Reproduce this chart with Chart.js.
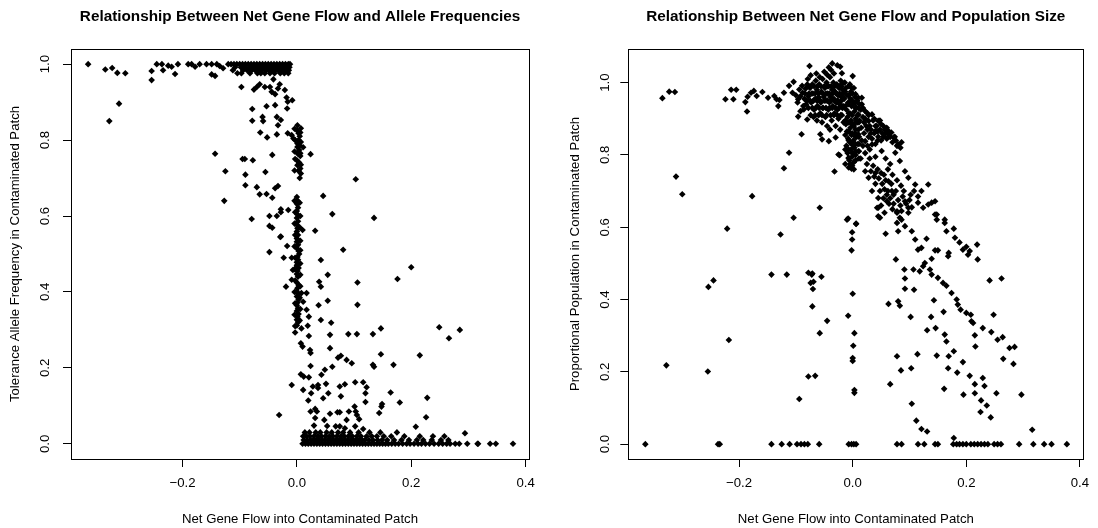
<!DOCTYPE html>
<html>
<head>
<meta charset="utf-8">
<script src="https://cdn.jsdelivr.net/npm/chart.js@4.4.1/dist/chart.umd.min.js"></script>
<style>
  html, body { margin: 0; padding: 0; background: #fff; }
  #wrap { display: flex; width: 1098px; height: 528px; }
  canvas { display: block; }
</style>
</head>
<body>
<div id="wrap">
  <canvas id="alleleChart" width="549" height="528"></canvas>
  <canvas id="popChart" width="549" height="528"></canvas>
</div>
<script>
// tick values (same x axis on both panels)
const xTicks = [-0.2, 0.0, 0.2, 0.4];
const alleleTicks = [0.0, 0.2, 0.4, 0.6, 0.8, 1.0];
const popTicks = [0.0, 0.2, 0.4, 0.6, 0.8, 1.0];

// net gene flow vs tolerance allele frequency
const allelePoints = [
  [-0.365,1.000],[-0.335,0.986],[-0.323,0.990],[-0.314,0.977],[-0.300,0.976],[-0.311,0.896],[-0.328,0.850],
  [-0.254,0.958],[-0.254,0.982],[-0.245,1.000],[-0.236,1.000],[-0.234,0.984],[-0.225,0.996],[-0.219,0.993],[-0.213,0.974],[-0.208,1.000],
  [-0.190,1.000],[-0.184,1.000],[-0.178,0.993],[-0.170,1.000],[-0.158,1.000],[-0.149,1.000],[-0.140,1.000],[-0.135,0.995],[-0.129,0.989],[-0.120,1.000],[-0.149,0.973],[-0.143,0.969],
  [-0.115,1.000],[-0.110,1.000],[-0.105,1.000],[-0.100,1.000],[-0.095,1.000],[-0.090,1.000],[-0.085,1.000],[-0.080,1.000],[-0.075,1.000],[-0.070,1.000],[-0.065,1.000],
  [-0.060,1.000],[-0.055,1.000],[-0.050,1.000],[-0.045,1.000],[-0.040,1.000],[-0.035,1.000],[-0.030,1.000],[-0.025,1.000],[-0.020,1.000],[-0.015,1.000],[-0.012,1.000],
  [-0.108,0.992],[-0.098,0.992],[-0.091,0.992],[-0.083,0.992],[-0.077,0.992],[-0.071,0.992],[-0.064,0.992],[-0.058,0.992],[-0.052,0.992],[-0.046,0.992],
  [-0.041,0.992],[-0.036,0.992],[-0.031,0.992],[-0.026,0.992],[-0.021,0.992],[-0.016,0.992],[-0.013,0.992],
  [-0.112,0.984],[-0.094,0.984],[-0.087,0.984],[-0.079,0.984],[-0.073,0.984],[-0.067,0.984],[-0.061,0.984],[-0.054,0.984],[-0.049,0.984],[-0.043,0.984],
  [-0.038,0.984],[-0.033,0.984],[-0.028,0.984],[-0.023,0.984],[-0.018,0.984],[-0.014,0.984],
  [-0.104,0.976],[-0.097,0.976],[-0.082,0.976],[-0.069,0.976],[-0.063,0.976],[-0.056,0.976],[-0.047,0.976],[-0.039,0.976],[-0.029,0.976],[-0.022,0.976],[-0.015,0.976],
  [-0.097,0.940],[-0.075,0.933],[-0.070,0.940],[-0.065,0.947],[-0.056,0.940],[-0.047,0.940],[-0.044,0.927],[-0.041,0.960],[-0.038,0.921],[-0.033,0.936],
  [-0.030,0.947],[-0.021,0.932],[-0.018,0.912],[-0.016,0.901],[-0.008,0.905],[-0.017,0.883],
  [-0.078,0.882],[-0.078,0.851],[-0.060,0.861],[-0.059,0.850],[-0.053,0.889],[-0.038,0.892],[-0.035,0.861],[-0.033,0.839],[-0.028,0.853],
  [-0.064,0.820],[-0.052,0.807],[-0.035,0.815],[-0.016,0.818],[-0.009,0.813],[-0.006,0.804],
  [0.001,0.839],[0.007,0.831],[0.003,0.818],[0.000,0.826],[0.005,0.810],[0.003,0.800],[0.001,0.791],[0.005,0.786],[0.001,0.782],[0.011,0.781],
  [0.004,0.774],[0.001,0.765],[0.006,0.758],[0.000,0.747],[0.004,0.741],[0.001,0.734],[0.006,0.725],[0.003,0.719],[0.007,0.712],
  [0.024,0.763],[-0.143,0.764],[-0.125,0.718],[-0.127,0.640],[-0.095,0.750],[-0.091,0.750],[-0.077,0.747],[-0.090,0.709],[-0.055,0.716],[-0.043,0.761],
  [-0.090,0.681],[-0.070,0.676],[-0.065,0.657],[-0.053,0.658],[-0.043,0.648],[-0.038,0.673],[-0.033,0.679],
  [0.103,0.697],[0.046,0.653],[0.062,0.605],[0.135,0.595],
  [-0.079,0.592],[-0.048,0.600],[-0.035,0.600],[-0.048,0.574],[-0.043,0.569],[-0.028,0.618],[-0.028,0.610],[-0.015,0.616],[-0.029,0.545],
  [0.000,0.650],[0.001,0.641],[0.000,0.632],[0.002,0.622],[0.000,0.613],[0.001,0.604],[0.000,0.595],[0.002,0.586],[0.000,0.577],[0.001,0.568],
  [0.000,0.559],[0.002,0.550],[0.000,0.541],[0.010,0.563],[0.032,0.561],
  [-0.028,0.546],[-0.048,0.505],[-0.017,0.521],[-0.023,0.490],[-0.009,0.490],[0.000,0.478],[0.004,0.500],
  [0.042,0.484],[0.081,0.511],[-0.007,0.458],[-0.009,0.432],[-0.019,0.414],
  [0.000,0.532],[0.002,0.524],[0.000,0.515],[0.003,0.508],[0.001,0.492],[0.002,0.485],[0.000,0.470],[0.003,0.463],[0.001,0.455],[0.000,0.447],
  [0.002,0.440],[0.000,0.425],[0.003,0.418],[0.001,0.410],[0.000,0.402],[0.002,0.395],[0.000,0.388],[0.003,0.380],[0.001,0.372],[0.000,0.365],
  [0.002,0.357],[0.000,0.350],[0.003,0.342],[0.001,0.335],[0.000,0.327],[0.002,0.320],[0.000,0.312],[-0.003,0.293],
  [-0.004,0.830],[0.006,0.820],[-0.003,0.800],[0.007,0.795],[-0.004,0.770],[0.006,0.765],[-0.003,0.750],[0.007,0.735],[-0.004,0.720],[0.005,0.700],
  [-0.004,0.640],[0.005,0.635],[-0.003,0.610],[0.006,0.600],[-0.004,0.580],[0.005,0.570],[-0.003,0.550],[0.006,0.535],[-0.004,0.520],[0.006,0.510],
  [-0.003,0.490],[0.006,0.475],[-0.004,0.460],[0.006,0.445],[-0.003,0.430],[0.006,0.415],[-0.004,0.400],[0.005,0.385],[-0.003,0.370],[0.006,0.355],
  [-0.004,0.340],[0.005,0.325],[-0.003,0.310],
  [0.008,0.397],[0.017,0.397],[0.011,0.374],[0.017,0.353],[0.021,0.335],[0.008,0.304],[0.019,0.311],[0.021,0.284],
  [0.039,0.427],[0.042,0.414],[0.054,0.445],[0.106,0.425],[0.176,0.434],[0.200,0.465],
  [0.038,0.365],[0.054,0.377],[0.106,0.366],[0.042,0.326],[0.060,0.319],[0.058,0.287],[0.058,0.252],
  [0.090,0.289],[0.105,0.289],[0.133,0.289],[0.147,0.304],[0.249,0.307],[0.266,0.278],[0.285,0.300],
  [0.007,0.265],[0.010,0.256],[0.023,0.247],[0.024,0.239],[0.072,0.227],[0.077,0.232],[0.087,0.221],[0.096,0.212],[0.147,0.236],[0.133,0.208],
  [0.135,0.203],[0.169,0.208],[0.215,0.233],
  [0.024,0.205],[0.007,0.183],[0.012,0.177],[0.021,0.175],[0.043,0.182],[0.049,0.195],[0.062,0.203],
  [-0.009,0.155],[0.011,0.142],[0.025,0.133],[0.028,0.151],[0.037,0.155],[0.037,0.147],[0.051,0.158],[0.055,0.133],[0.075,0.151],[0.084,0.157],
  [0.102,0.162],[0.116,0.162],[0.122,0.149],[0.120,0.133],[0.164,0.135],
  [0.077,0.125],[0.046,0.120],[0.020,0.114],[0.120,0.110],[0.149,0.105],[0.180,0.109],[0.228,0.121],
  [-0.031,0.076],[0.024,0.085],[0.032,0.092],[0.035,0.085],[0.058,0.079],[0.071,0.083],[0.075,0.083],[0.091,0.085],[0.101,0.098],[0.103,0.085],
  [0.105,0.076],[0.144,0.081],[0.148,0.098],
  [0.032,0.068],[0.048,0.063],[0.087,0.063],[0.109,0.065],[0.226,0.070],
  [0.030,0.048],[0.053,0.047],[0.068,0.046],[0.075,0.046],[0.084,0.041],[0.102,0.046],[0.116,0.039],[0.208,0.045],[0.294,0.028],
  [0.010,0.000],[0.015,0.000],[0.020,0.000],[0.025,0.000],[0.030,0.000],[0.035,0.000],[0.040,0.000],[0.045,0.000],[0.050,0.000],[0.055,0.000],
  [0.060,0.000],[0.065,0.000],[0.070,0.000],[0.075,0.000],[0.080,0.000],[0.085,0.000],[0.090,0.000],[0.095,0.000],[0.100,0.000],[0.105,0.000],
  [0.110,0.000],[0.115,0.000],[0.120,0.000],[0.125,0.000],[0.130,0.000],[0.135,0.000],[0.140,0.000],[0.145,0.000],[0.150,0.000],[0.155,0.000],
  [0.160,0.000],[0.166,0.000],[0.172,0.000],[0.178,0.000],[0.185,0.000],[0.192,0.000],[0.198,0.000],[0.205,0.000],[0.212,0.000],[0.218,0.000],
  [0.225,0.000],[0.232,0.000],[0.240,0.000],[0.248,0.000],[0.255,0.000],[0.262,0.000],[0.268,0.000],
  [0.012,0.010],[0.018,0.010],[0.024,0.010],[0.029,0.010],[0.034,0.010],[0.039,0.010],[0.044,0.010],[0.049,0.010],[0.054,0.010],[0.059,0.010],
  [0.064,0.010],[0.069,0.010],[0.074,0.010],[0.079,0.010],[0.084,0.010],[0.089,0.010],[0.094,0.010],[0.099,0.010],[0.104,0.010],[0.109,0.010],
  [0.114,0.010],[0.119,0.010],[0.126,0.010],[0.133,0.010],[0.141,0.010],[0.149,0.010],[0.158,0.010],[0.170,0.010],[0.183,0.010],[0.196,0.010],
  [0.210,0.010],[0.221,0.010],[0.236,0.010],[0.252,0.010],[0.265,0.010],
  [0.011,0.020],[0.017,0.020],[0.023,0.020],[0.030,0.020],[0.037,0.020],[0.043,0.020],[0.050,0.020],[0.057,0.020],[0.063,0.020],[0.070,0.020],
  [0.077,0.020],[0.083,0.020],[0.090,0.020],[0.097,0.020],[0.105,0.020],[0.112,0.020],[0.122,0.020],[0.131,0.020],[0.140,0.020],[0.152,0.020],
  [0.165,0.020],[0.188,0.020],[0.215,0.020],[0.238,0.020],[0.258,0.020],
  [0.014,0.030],[0.022,0.030],[0.033,0.030],[0.041,0.030],[0.052,0.030],[0.061,0.030],[0.072,0.030],[0.081,0.030],[0.093,0.030],[0.108,0.030],
  [0.127,0.030],[0.146,0.030],[0.175,0.030],
  [0.277,0.000],[0.284,0.000],[0.298,0.000],[0.316,0.000],[0.317,0.000],[0.338,0.000],[0.348,0.000],[0.378,0.000]
];

// net gene flow vs proportional population
const popPoints = [
  [-0.335,0.957],[-0.323,0.975],[-0.313,0.974],[-0.311,0.740],[-0.300,0.691],
  [-0.224,0.954],[-0.214,0.980],[-0.210,0.954],[-0.205,0.980],[-0.189,0.946],[-0.186,0.920],[-0.185,0.961],[-0.179,0.972],[-0.174,0.977],[-0.169,0.963],
  [-0.159,0.974],[-0.149,0.958],[-0.138,0.963],[-0.134,0.954],[-0.129,0.952],[-0.131,0.935],[-0.121,0.972],[-0.112,0.991],[-0.104,1.002],[-0.106,0.972],
  [-0.096,0.954],[-0.094,0.981],[-0.089,0.991],[-0.083,0.983],[-0.080,0.995],
  [-0.096,0.906],[-0.092,0.921],[-0.086,0.926],[-0.080,0.898],[-0.076,1.046],[-0.090,0.857],[-0.112,0.806],[-0.121,0.763],[-0.177,0.686],[-0.221,0.596],
  [-0.127,0.580],[-0.104,0.626],[-0.058,0.654],[-0.010,0.621],[0.006,0.610],[-0.001,0.586],
  [-0.054,0.843],[-0.042,0.838],[-0.057,0.857],[-0.030,0.848],[-0.023,0.799],[-0.032,0.754],[-0.036,1.053],[-0.027,1.048],[-0.022,1.044],[-0.019,1.026],
  [0.000,1.018],[-0.042,1.042],
  [-0.078,0.962],[-0.075,0.985],[-0.073,0.945],[-0.071,0.995],[-0.070,0.970],[-0.068,0.925],[-0.066,0.955],[-0.065,1.005],[-0.063,0.980],[-0.062,0.935],
  [-0.060,0.960],[-0.059,0.995],[-0.057,0.915],[-0.056,0.945],[-0.055,0.975],[-0.053,1.010],[-0.052,0.930],[-0.051,0.960],[-0.049,0.985],[-0.048,0.905],
  [-0.047,0.950],[-0.046,1.000],[-0.044,0.970],[-0.043,0.925],[-0.042,0.990],[-0.041,0.945],[-0.040,1.015],[-0.039,0.960],[-0.037,0.895],[-0.036,0.980],
  [-0.035,0.935],[-0.034,1.000],[-0.033,0.955],[-0.032,0.915],[-0.031,0.975],[-0.030,0.880],[-0.029,0.945],[-0.028,0.995],[-0.027,0.925],[-0.026,0.965],
  [-0.025,0.900],[-0.024,0.985],[-0.023,0.940],[-0.022,0.870],[-0.021,1.005],[-0.020,0.960],[-0.019,0.910],[-0.018,0.980],[-0.017,0.935],[-0.016,0.890],
  [-0.015,0.955],[-0.014,1.000],
  [-0.085,0.955],[-0.088,0.972],[-0.082,0.940],[-0.079,1.010],[-0.074,1.020],[-0.064,1.025],[-0.058,1.015],[-0.050,1.030],[-0.045,1.022],[-0.038,1.035],
  [-0.033,1.025],[-0.069,0.905],[-0.063,0.895],[-0.054,0.890],[-0.045,0.880],[-0.040,0.870],[-0.100,0.965],[-0.097,0.945],[-0.092,0.962],[-0.087,0.935],
  [-0.078,0.930],[-0.071,0.930],[-0.065,0.930],[-0.059,0.930],[-0.053,0.930],[-0.047,0.930],[-0.041,0.930],[-0.036,0.930],[-0.030,0.930],[-0.024,0.930],[-0.018,0.930],
  [-0.081,0.950],[-0.075,0.950],[-0.069,0.950],[-0.063,0.950],[-0.057,0.950],[-0.050,0.950],[-0.044,0.950],[-0.038,0.950],[-0.032,0.950],[-0.026,0.950],[-0.020,0.950],
  [-0.084,0.970],[-0.077,0.970],[-0.072,0.970],[-0.066,0.970],[-0.060,0.970],[-0.053,0.970],[-0.047,0.970],[-0.041,0.970],[-0.035,0.970],[-0.029,0.970],[-0.023,0.970],[-0.017,0.970],
  [-0.077,0.990],[-0.068,0.990],[-0.062,0.990],[-0.056,0.990],[-0.050,0.990],[-0.044,0.990],[-0.038,0.990],[-0.032,0.990],[-0.026,0.990],[-0.020,0.990],
  [-0.074,0.910],[-0.066,0.910],[-0.060,0.910],[-0.054,0.910],[-0.046,0.910],[-0.039,0.910],[-0.033,0.910],[-0.027,0.910],[-0.021,0.910],
  [-0.012,0.985],[-0.010,0.965],[-0.008,0.945],[-0.011,0.925],[-0.009,0.905],[-0.012,0.885],[-0.010,0.865],[-0.008,0.845],[-0.011,0.825],[-0.009,0.805],
  [-0.006,0.785],[-0.005,0.995],[-0.003,0.975],[-0.004,0.955],[-0.002,0.935],[-0.005,0.915],[-0.003,0.895],[-0.004,0.875],[-0.002,0.855],[-0.005,0.835],
  [-0.003,0.815],[-0.001,0.795],[-0.004,0.775],[-0.002,0.762],
  [0.002,0.985],[0.004,0.960],[0.001,0.940],[0.003,0.920],[0.005,0.900],[0.002,0.880],[0.004,0.860],[0.001,0.840],[0.003,0.820],[0.005,0.800],[0.002,0.780],
  [0.008,0.950],[0.007,0.930],[0.009,0.910],[0.008,0.890],[0.010,0.870],[0.007,0.850],[0.009,0.830],[0.011,0.810],
  [-0.013,0.775],[-0.013,0.815],[-0.013,0.855],[-0.013,0.895],[-0.013,0.935],[-0.013,0.975],
  [-0.007,0.765],[-0.007,0.790],[-0.007,0.815],[-0.007,0.840],[-0.007,0.865],[-0.007,0.890],[-0.007,0.915],[-0.007,0.940],[-0.007,0.965],[-0.007,0.990],
  [-0.001,0.770],[-0.001,0.805],[-0.001,0.830],[-0.001,0.860],[-0.001,0.885],[-0.001,0.910],[-0.001,0.950],[-0.001,0.970],
  [0.005,0.785],[0.005,0.810],[0.005,0.830],[0.005,0.850],[0.005,0.870],[0.005,0.890],[0.005,0.930],[0.005,0.945],
  [0.011,0.790],[0.011,0.830],[0.011,0.850],[0.011,0.890],[0.011,0.930],
  [-0.020,0.995],[-0.002,0.986],[-0.016,0.958],[0.010,0.958],[0.016,0.958],
  [0.010,0.912],[0.022,0.921],[0.034,0.912],[0.045,0.894],[0.054,0.880],[0.063,0.866],[0.072,0.848],[0.080,0.829],[0.010,0.857],[0.022,0.838],
  [0.034,0.829],[-0.001,0.829],[-0.007,0.792],[0.002,0.760],[0.016,0.940],[0.005,0.968],[0.028,0.894],[0.040,0.866],
  [0.014,0.925],[0.018,0.905],[0.026,0.915],[0.030,0.880],[0.038,0.900],[0.042,0.880],[0.048,0.870],[0.050,0.885],[0.058,0.860],[0.060,0.875],
  [0.066,0.850],[0.068,0.862],[0.076,0.840],[0.015,0.875],[0.020,0.860],[0.028,0.850],[0.034,0.845],[0.045,0.850],[0.012,0.895],[0.024,0.880],
  [0.016,0.840],[0.026,0.825],[0.050,0.840],
  [0.012,0.940],[0.018,0.930],[0.022,0.900],[0.028,0.910],[0.032,0.870],[0.036,0.895],[0.040,0.880],[0.044,0.865],[0.048,0.895],[0.052,0.860],
  [0.056,0.870],[0.060,0.845],[0.064,0.855],[0.070,0.835],[0.074,0.850],[0.078,0.825],[0.084,0.820],[0.086,0.835],[0.020,0.890],[0.026,0.870],
  [0.032,0.860],[0.038,0.860],[0.044,0.840],[0.054,0.850],[0.018,0.825],[0.010,0.810],[0.014,0.790],[0.022,0.805],[0.030,0.815],[0.040,0.830],
  [0.022,0.755],[0.028,0.737],[0.034,0.700],[0.045,0.654],[0.048,0.626],[0.078,0.644],[0.083,0.626],[0.092,0.755],[0.098,0.737],[0.110,0.718],
  [0.121,0.700],[0.133,0.718],[0.145,0.672],[0.133,0.663],[0.148,0.635],[0.162,0.621],[-0.008,0.624],[-0.025,0.801],[0.051,0.811],[0.075,0.806],
  [0.083,0.783],[0.063,0.727],[0.069,0.700],[0.092,0.672],[0.098,0.654],[0.045,0.681],
  [0.030,0.790],[0.036,0.770],[0.040,0.750],[0.046,0.735],[0.052,0.720],[0.056,0.705],[0.060,0.690],[0.066,0.680],[0.072,0.665],[0.040,0.720],
  [0.055,0.745],[0.062,0.760],[0.070,0.745],[0.078,0.730],[0.085,0.715],[0.090,0.700],[0.102,0.690],[0.108,0.700],[0.115,0.685],[0.040,0.795],
  [0.058,0.790],[0.066,0.775],
  [0.025,0.775],[0.032,0.755],[0.038,0.740],[0.044,0.760],[0.048,0.700],[0.050,0.750],[0.054,0.680],[0.058,0.730],[0.062,0.700],[0.064,0.665],
  [0.068,0.720],[0.072,0.690],[0.076,0.700],[0.080,0.675],[0.084,0.660],[0.088,0.685],[0.094,0.665],[0.100,0.675],[0.104,0.655],[0.050,0.660],
  [0.056,0.640],[0.070,0.650],[0.086,0.645],
  [0.043,0.654],[0.045,0.630],[0.060,0.672],[0.078,0.640],[0.086,0.621],[0.092,0.603],[0.080,0.589],[0.104,0.589],[0.078,0.612],[0.098,0.640],
  [0.058,0.582],[0.110,0.566],[0.130,0.568],[0.115,0.538],[0.121,0.543],[0.145,0.536],[0.150,0.536],[0.076,0.511],[0.139,0.513],[0.115,0.668],
  [0.124,0.654],[0.139,0.668],[0.145,0.635],[0.148,0.621],[0.162,0.612],[0.165,0.589],[0.178,0.596],[0.180,0.571],[0.188,0.558],[0.194,0.538],
  [0.200,0.546],[0.206,0.534],[0.203,0.524],[0.219,0.552],[0.220,0.511],[0.169,0.529],[0.168,0.520],
  [0.127,0.501],[0.124,0.492],[0.118,0.478],[0.136,0.483],[0.139,0.469],[0.150,0.460],[0.159,0.446],[0.165,0.438],[0.174,0.418],[0.183,0.400],
  [0.185,0.386],[0.190,0.372],[0.200,0.363],[0.208,0.358],[0.209,0.340],[0.212,0.335],[0.229,0.321],[0.244,0.310],[0.255,0.289],[0.264,0.296],
  [0.276,0.266],[0.285,0.269],[0.265,0.236],[0.283,0.222],[0.241,0.453],[0.262,0.458],[0.248,0.358],
  [0.107,0.483],[0.091,0.483],[0.092,0.458],[0.092,0.430],[0.108,0.427],[0.063,0.388],[0.080,0.395],[0.083,0.383],[0.143,0.398],[0.160,0.366],
  [0.102,0.352],[0.138,0.352],[0.131,0.315],[0.146,0.321],[0.162,0.303],[0.165,0.284],[0.215,0.301],[0.216,0.270],
  [0.078,0.243],[0.114,0.249],[0.148,0.245],[0.169,0.243],[0.178,0.257],[0.194,0.227],[0.085,0.204],[0.103,0.210],[0.168,0.210],[0.184,0.198],
  [0.206,0.189],[0.229,0.183],[0.215,0.166],[0.232,0.161],[0.066,0.166],[0.161,0.153],[0.195,0.137],[0.215,0.141],[0.253,0.141],[0.297,0.137],
  [0.226,0.121],[0.236,0.107],[0.225,0.089],[0.243,0.074],[0.104,0.112],[0.112,0.065],[0.121,0.042],[0.131,0.035],[0.178,0.017],[0.316,0.040],
  [0.006,0.609],[-0.001,0.566],[-0.002,0.536],[0.000,0.416],[-0.008,0.355],[0.003,0.307],[0.001,0.272],[0.000,0.238],[0.000,0.230],[0.003,0.150],[0.003,0.142],
  [-0.045,0.341],[-0.058,0.307],[-0.071,0.381],[-0.078,0.474],[-0.071,0.472],[-0.074,0.446],[-0.070,0.429],[-0.055,0.463],[-0.078,0.187],[-0.066,0.189],[-0.094,0.125],
  [-0.143,0.469],[-0.116,0.469],[-0.072,0.469],[-0.069,0.449],[-0.245,0.453],[-0.254,0.435],[-0.218,0.288],[-0.328,0.218],[-0.255,0.201],
  [-0.365,0.000],[-0.237,0.000],[-0.234,0.000],[-0.143,0.000],[-0.125,0.000],[-0.111,0.000],[-0.098,0.000],[-0.091,0.000],[-0.085,0.000],[-0.079,0.000],
  [-0.059,0.000],[-0.007,0.000],[-0.002,0.000],[0.002,0.000],[0.006,0.000],[0.078,0.000],[0.086,0.000],[0.115,0.000],[0.126,0.000],[0.145,0.000],
  [0.150,0.000],[0.177,0.000],[0.183,0.000],[0.188,0.000],[0.194,0.000],[0.200,0.000],[0.208,0.000],[0.214,0.000],[0.220,0.000],[0.226,0.000],
  [0.232,0.000],[0.238,0.000],[0.249,0.000],[0.255,0.000],[0.261,0.000],[0.293,0.000],[0.318,0.000],[0.337,0.000],[0.350,0.000],[0.377,0.000]
];

Chart.defaults.font.family = "'Liberation Sans', Arial, Helvetica, sans-serif";
Chart.defaults.font.size = 13.2;
Chart.defaults.color = '#000';

// R style box around the plot region
const boxPlugin = {
    id: 'plotBox',
    afterDraw(chart) {
        const { ctx, chartArea: a } = chart;
        ctx.save();
        ctx.strokeStyle = '#000';
        ctx.lineWidth = 1;
        ctx.strokeRect(Math.round(a.left) + 0.5, Math.round(a.top) + 0.5,
            Math.round(a.right - a.left), Math.round(a.bottom - a.top));
        ctx.restore();
    }
};

function tickLabel(v) {
    return (v < 0 ? '\u2212' : '') + Math.abs(v).toFixed(1);
}

function makeChart(canvasId, opts) {
    return new Chart(document.getElementById(canvasId), {
        type: 'scatter',
        data: {
            datasets: [{
                data: opts.points.map(([x, y]) => ({ x, y })),
                pointStyle: 'rectRot',
                pointRadius: 3.3,
                pointBorderWidth: 0,
                backgroundColor: '#000',
                borderColor: '#000'
            }]
        },
        options: {
            responsive: false,
            animation: false,
            layout: { padding: { left: 0, right: opts.rightPad, top: 0, bottom: 0 } },
            plugins: {
                legend: { display: false },
                tooltip: { enabled: false },
                title: {
                    display: true,
                    text: opts.title,
                    fullSize: false,
                    font: { size: 15.3, weight: 'bold' },
                    padding: { top: 7.4, bottom: 23.2 }
                }
            },
            scales: {
                x: {
                    type: 'linear',
                    min: -0.395,
                    max: 0.406,
                    afterBuildTicks: s => { s.ticks = xTicks.map(v => ({ value: v })); },
                    afterFit: s => { s.height = 69; },
                    border: { display: false },
                    grid: { drawOnChartArea: false, drawTicks: true, tickLength: 8, color: '#000', tickColor: '#000' },
                    ticks: { padding: 8.8, maxRotation: 0, callback: tickLabel },
                    title: { display: true, text: 'Net Gene Flow into Contaminated Patch', padding: { top: 0, bottom: 1.1 } }
                },
                y: {
                    type: 'linear',
                    min: opts.yMin,
                    max: opts.yMax,
                    afterBuildTicks: s => { s.ticks = opts.yTicks.map(v => ({ value: v })); },
                    afterFit: s => { s.width = opts.yWidth; },
                    border: { display: false },
                    grid: { drawOnChartArea: false, drawTicks: true, tickLength: 8, color: '#000', tickColor: '#000' },
                    ticks: { padding: opts.yTickPad, minRotation: 90, maxRotation: 90, crossAlign: 'center', callback: tickLabel },
                    title: { display: true, text: opts.yTitle, padding: { top: opts.yTitlePad, bottom: 0 } }
                }
            }
        },
        plugins: [boxPlugin]
    });
}

makeChart('alleleChart', {
    points: allelePoints,
    title: 'Relationship Between Net Gene Flow and Allele Frequencies',
    yTitle: 'Tolerance Allele Frequency in Contaminated Patch',
    yTicks: alleleTicks,
    yMin: -0.04, yMax: 1.04,
    yWidth: 71, rightPad: 20, yTickPad: 8.1, yTitlePad: 7.1
});

makeChart('popChart', {
    points: popPoints,
    title: 'Relationship Between Net Gene Flow and Population Size',
    yTitle: 'Proportional Population in Contaminated Patch',
    yTicks: popTicks,
    yMin: -0.041, yMax: 1.093,
    yWidth: 79.3, rightPad: 12, yTickPad: 5.4, yTitlePad: 18.1
});
</script>
</body>
</html>
